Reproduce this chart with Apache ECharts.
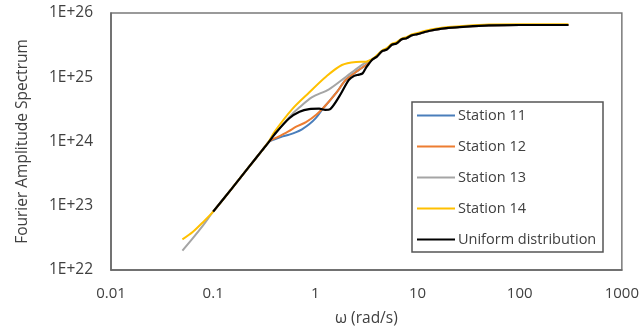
<!DOCTYPE html>
<html>
<head>
<meta charset="utf-8">
<script src="https://cdn.jsdelivr.net/npm/echarts@6/dist/echarts.min.js"></script>
<style>
  html, body { margin: 0; padding: 0; background: #fff; }
  #chart { width: 642px; height: 332px; }
</style>
</head>
<body>
<div id="chart"></div>
<script>
// omega (rad/s) vs Fourier amplitude
var station11 = [
  [0.1, 8.1e22], [0.15, 1.8e23], [0.226, 4.1e23], [0.3, 7.2e23], [0.35, 9.8e23],
  [0.4, 1.08e24], [0.48, 1.2e24], [0.556, 1.28e24], [0.65, 1.4e24], [0.74, 1.55e24],
  [0.87, 1.85e24], [1.02, 2.35e24], [1.16, 3.1e24], [1.27, 3.7e24], [1.6, 5.7e24],
  [2.0, 9.2e24], [2.67, 1.3e25], [3.13, 1.55e25], [3.58, 1.86e25],
  [4.0, 2.1e25], [4.5, 2.55e25], [5.0, 2.7e25], [5.6, 3.2e25], [6.2, 3.35e25],
  [7.0, 3.9e25], [7.8, 4.05e25], [8.8, 4.5e25], [10, 4.7e25], [12, 5.1e25],
  [15, 5.5e25], [20, 5.85e25], [30, 6.15e25], [50, 6.4e25], [100, 6.5e25], [300, 6.5e25]
];
var station12 = [
  [0.1, 8.1e22], [0.15, 1.8e23], [0.226, 4.1e23], [0.3, 7.2e23], [0.35, 9.8e23],
  [0.4, 1.12e24], [0.443, 1.2e24], [0.55, 1.45e24], [0.65, 1.7e24], [0.81, 2.0e24],
  [1.02, 2.6e24], [1.27, 3.7e24], [1.6, 5.7e24], [2.0, 9.2e24], [2.67, 1.3e25],
  [3.13, 1.55e25], [3.58, 1.86e25],
  [4.0, 2.1e25], [4.5, 2.55e25], [5.0, 2.7e25], [5.6, 3.2e25], [6.2, 3.35e25],
  [7.0, 3.9e25], [7.8, 4.05e25], [8.8, 4.5e25], [10, 4.7e25], [12, 5.1e25],
  [15, 5.5e25], [20, 5.85e25], [30, 6.15e25], [50, 6.4e25], [100, 6.5e25], [300, 6.5e25]
];
var station13 = [
  [0.05, 2.0e22], [0.063, 3.1e22], [0.08, 5.0e22], [0.1, 8.1e22], [0.15, 1.8e23],
  [0.226, 4.1e23], [0.3, 7.2e23], [0.35, 9.8e23], [0.4, 1.3e24], [0.556, 2.4e24],
  [0.7, 3.4e24], [0.93, 4.9e24], [1.36, 6.5e24], [2.0, 1.02e25], [2.67, 1.44e25],
  [3.13, 1.7e25], [3.58, 1.9e25],
  [4.0, 2.1e25], [4.5, 2.55e25], [5.0, 2.7e25], [5.6, 3.2e25], [6.2, 3.35e25],
  [7.0, 3.9e25], [7.8, 4.05e25], [8.8, 4.5e25], [10, 4.7e25], [12, 5.1e25],
  [15, 5.5e25], [20, 5.85e25], [30, 6.15e25], [50, 6.4e25], [100, 6.5e25], [300, 6.5e25]
];
var station14 = [
  [0.05, 3.0e22], [0.063, 3.9e22], [0.08, 5.6e22], [0.1, 8.1e22], [0.15, 1.8e23],
  [0.226, 4.1e23], [0.3, 7.2e23], [0.35, 1.0e24], [0.4, 1.43e24], [0.594, 3.2e24],
  [0.87, 5.8e24], [1.27, 1.02e25], [1.82, 1.55e25], [2.5, 1.73e25], [3.13, 1.75e25],
  [3.74, 2.0e25],
  [4.0, 2.2e25], [4.5, 2.6e25], [5.0, 2.85e25], [5.6, 3.3e25], [6.2, 3.5e25],
  [7.0, 4.0e25], [7.8, 4.2e25], [8.8, 4.65e25], [10, 4.9e25], [12, 5.3e25],
  [15, 5.7e25], [20, 6.05e25], [30, 6.35e25], [50, 6.6e25], [100, 6.7e25], [300, 6.7e25]
];
var uniform = [
  [0.1, 8.1e22], [0.15, 1.8e23], [0.226, 4.1e23], [0.3, 7.2e23], [0.35, 9.8e23],
  [0.4, 1.3e24], [0.556, 2.3e24], [0.7, 2.9e24], [0.87, 3.2e24], [1.09, 3.25e24],
  [1.25, 3.1e24], [1.4, 3.2e24], [1.71, 5.0e24], [2.13, 9.1e24], [2.4, 1.05e25],
  [2.67, 1.1e25], [2.9, 1.15e25], [3.13, 1.4e25], [3.58, 1.86e25],
  [4.0, 2.1e25], [4.5, 2.55e25], [5.0, 2.7e25], [5.6, 3.2e25], [6.2, 3.35e25],
  [7.0, 3.9e25], [7.8, 4.05e25], [8.8, 4.5e25], [10, 4.7e25], [12, 5.1e25],
  [15, 5.5e25], [20, 5.85e25], [30, 6.15e25], [50, 6.4e25], [100, 6.5e25], [300, 6.5e25]
];

var seriesNames = ["Station 11", "Station 12", "Station 13", "Station 14", "Uniform distribution"];
var seriesData = [station11, station12, station13, station14, uniform];
var colors = ["#4A7EBB", "#ED7D31", "#A5A5A5", "#FFC000", "#000000"];

var textColor = "#404040";
var font = "Open Sans";

var series = [];
for (var i = 0; i < seriesNames.length; i++) {
  series.push({
    name: seriesNames[i],
    type: "line",
    data: seriesData[i],
    smooth: 0.3,
    showSymbol: false,
    symbol: "none",
    lineStyle: { width: i === 4 ? 2.2 : 2, color: colors[i] },
    itemStyle: { color: colors[i] },
    z: 2 + i
  });
}

var chart = echarts.init(document.getElementById("chart"), null, { renderer: "canvas" });
chart.setOption({
  animation: false,
  color: colors,
  grid: {
    left: 111, right: 18, top: 13, bottom: 61,
    show: true, borderColor: "#7a7a7a", borderWidth: 1.5, backgroundColor: "transparent"
  },
  xAxis: {
    type: "log", logBase: 10, min: 0.01, max: 1000,
    name: "ω (rad/s)", nameLocation: "middle", nameGap: 41,
    nameTextStyle: { color: textColor, fontFamily: font, fontSize: 15.5 },
    axisLine: { show: true, lineStyle: { color: "#666", width: 1.5 } },
    axisTick: { show: false },
    splitLine: { show: false },
    minorTick: { show: false },
    axisLabel: {
      color: textColor, fontFamily: font, fontSize: 15, margin: 16,
      formatter: function (v) { return String(Number(v.toPrecision(3))); }
    }
  },
  yAxis: {
    type: "log", logBase: 10, min: 1e22, max: 1e26,
    name: "Fourier Amplitude Spectrum", nameLocation: "middle", nameGap: 80, nameRotate: 90,
    nameTextStyle: { color: textColor, fontFamily: font, fontSize: 15.5 },
    axisLine: { show: true, lineStyle: { color: "#666", width: 1.5 } },
    axisTick: { show: false },
    splitLine: { show: false },
    axisLabel: {
      color: textColor, fontFamily: font, fontSize: 15.5, margin: 18,
      formatter: function (v) { return "1E+" + Math.round(Math.log10(v)); }
    }
  },
  legend: {
    orient: "vertical",
    left: 417, top: 108,
    padding: 0,
    itemGap: 16,
    itemWidth: 38, itemHeight: 2,
    icon: "rect",
    data: seriesNames,
    textStyle: { color: textColor, fontFamily: font, fontSize: 14.5, lineHeight: 14, padding: [0, 0, 0, -2] }
  },
  graphic: [{
    type: "rect",
    shape: { x: 412, y: 102, width: 191, height: 150 },
    style: { fill: null, stroke: "#555", lineWidth: 1.5 },
    z: 100
  }],
  series: series
});
</script>
</body>
</html>
